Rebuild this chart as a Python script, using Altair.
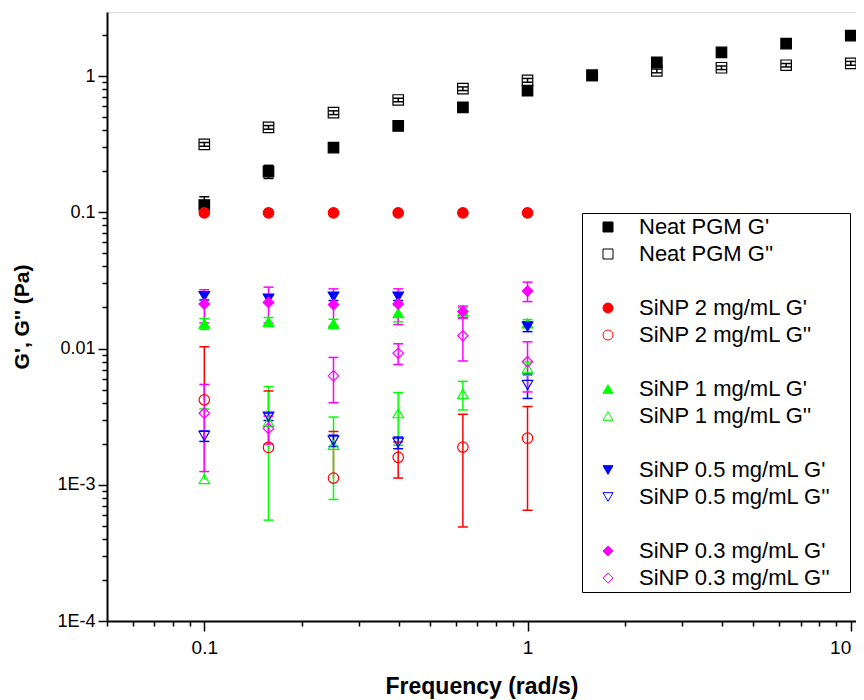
import altair as alt
import pandas as pd

# ---------------- data ----------------
freq = [0.1, 0.158, 0.251, 0.398, 0.631, 1.0, 1.585, 2.512, 3.981, 6.31, 10.0]
freq6 = [0.1, 0.158, 0.251, 0.398, 0.631, 1.0]
freq5 = [0.1, 0.158, 0.251, 0.398, 1.0]

neat_g1 = [0.113, 0.199, 0.298, 0.43, 0.589, 0.78, 1.01, 1.26, 1.49, 1.73, 1.98]
neat_g1_err = [0.017, 0.022, 0.015, 0.015, 0.02, 0.03, 0.03, 0.04, 0.04, 0.04, 0.05]
neat_g2 = [0.315, 0.42, 0.538, 0.667, 0.807, 0.93, 1.01, 1.09, 1.15, 1.20, 1.24]
neat_g2_err = [0.01, 0.013, 0.017, 0.02, 0.025, 0.03, 0.03, 0.035, 0.035, 0.035, 0.04]

si2_g1 = [0.099, 0.099, 0.099, 0.099, 0.099, 0.099]
si2_g1_err = [0.002, 0.002, 0.002, 0.002, 0.002, 0.002]
si2_g2 = [0.0042, 0.00188, 0.00112, 0.00159, 0.00189, 0.0022]
si2_g2_err = [0.0061, 0.0030, 0.00134, 0.00047, 0.0014, 0.00155]

si1_g1 = [0.0152, 0.0157, 0.0152, 0.0182, 0.0187, 0.0153]
si1_g1_err = [0.0014, 0.0012, 0.0012, 0.0025, 0.0012, 0.001]
si1_g2 = [0.0011, 0.0029, 0.00196, 0.00335, 0.00464, 0.00716]
si1_g2_err = [0.0025, 0.00235, 0.00118, 0.0014, 0.0011, 0.0008]

si05_g1 = [0.0242, 0.0232, 0.024, 0.024, 0.0145]
si05_g1_err = [0.0015, 0.0015, 0.0015, 0.0015, 0.0012]
si05_g2 = [0.00228, 0.00316, 0.00211, 0.00204, 0.0054]
si05_g2_err = [0.0002, 0.0002, 0.0002, 0.0002, 0.0011]

si03_g1 = [0.0212, 0.0218, 0.021, 0.0212, 0.0187, 0.0264]
si03_g1_err = [0.0058, 0.0064, 0.0064, 0.0062, 0.0018, 0.0043]
si03_g2 = [0.00335, 0.00259, 0.0063, 0.00923, 0.0124, 0.008]
si03_g2_err = [0.0021, 0.0006, 0.0023, 0.0016, 0.0043, 0.0032]

series = [
    ("Neat PGM G'", freq, neat_g1, neat_g1_err),
    ("Neat PGM G''", freq, neat_g2, neat_g2_err),
    ("SiNP 2 mg/mL G'", freq6, si2_g1, si2_g1_err),
    ("SiNP 2 mg/mL G''", freq6, si2_g2, si2_g2_err),
    ("SiNP 1 mg/mL G'", freq6, si1_g1, si1_g1_err),
    ("SiNP 1 mg/mL G''", freq6, si1_g2, si1_g2_err),
    ("SiNP 0.5 mg/mL G'", freq5, si05_g1, si05_g1_err),
    ("SiNP 0.5 mg/mL G''", freq5, si05_g2, si05_g2_err),
    ("SiNP 0.3 mg/mL G'", freq6, si03_g1, si03_g1_err),
    ("SiNP 0.3 mg/mL G''", freq6, si03_g2, si03_g2_err),
]

# legend entries (blank spacer rows between groups)
legend_names = ["Neat PGM G'", "Neat PGM G''", " ",
                "SiNP 2 mg/mL G'", "SiNP 2 mg/mL G''", "  ",
                "SiNP 1 mg/mL G'", "SiNP 1 mg/mL G''", "   ",
                "SiNP 0.5 mg/mL G'", "SiNP 0.5 mg/mL G''", "    ",
                "SiNP 0.3 mg/mL G'", "SiNP 0.3 mg/mL G''"]
legend_shapes = ["square", "square", "circle",
                 "circle", "circle", "circle",
                 "triangle-up", "triangle-up", "circle",
                 "triangle-down", "triangle-down", "circle",
                 "diamond", "diamond"]
legend_strokes = ["#000000", "#000000", "transparent",
                  "#ff0000", "#ff0000", "transparent",
                  "#00ff00", "#00ff00", "transparent",
                  "#0000ff", "#0000ff", "transparent",
                  "#ff00ff", "#ff00ff"]
legend_fills = ["#000000", "transparent", "transparent",
                "#ff0000", "transparent", "transparent",
                "#00ff00", "transparent", "transparent",
                "#0000ff", "transparent", "transparent",
                "#ff00ff", "transparent"]

series_names = [s[0] for s in series]
series_colors = ["#000000", "#000000", "#ff0000", "#ff0000", "#00ff00", "#00ff00",
                 "#0000ff", "#0000ff", "#ff00ff", "#ff00ff"]

rows = []
for name, xs, vs, es in series:
    for x, v, e in zip(xs, vs, es):
        lo = v - e
        rows.append({
            "series": name, "freq": x, "val": v, "hi": v + e,
            "lo": lo if lo > 0 else None,
            "bar_lo": lo if lo > 0 else v,
        })
df = pd.DataFrame(rows)

# ---------------- axes ----------------
x_ticks = [round(m * 10 ** e, 6) for e in (-2, -1, 0) for m in range(1, 10)]
x_ticks = [t for t in x_ticks if t >= 0.05] + [10.0]
y_ticks = [round(m * 10 ** e, 8) for e in (-4, -3, -2, -1) for m in range(1, 10)] + [1.0, 2.0]

font = "Liberation Sans"

x_scale = alt.Scale(type="log", domain=[0.05, 10.38], nice=False)
y_scale = alt.Scale(type="log", domain=[0.0001, 2.95], nice=False)

x_axis = alt.Axis(
    title="Frequency (rad/s)", values=x_ticks,
    labelExpr="datum.value == 0.1 ? '0.1' : datum.value == 1 ? '1' : datum.value == 10 ? '10' : ''",
    tickSize={"condition": {"test": "indexof([0.1, 1, 10], datum.value) >= 0", "value": 10}, "value": 5},
    labelOverlap=False, labelFlush=7, grid=False,
    domainColor="black", domainWidth=2, tickColor="black", tickWidth=1.5,
    labelFont=font, labelFontSize=19, labelColor="black", labelPadding=7,
    titleFont=font, titleFontSize=23, titleFontWeight="bold", titleColor="black", titlePadding=18,
)
y_axis = alt.Axis(
    title="G', G'' (Pa)", values=y_ticks,
    labelExpr="datum.value == 0.0001 ? '1E-4' : datum.value == 0.001 ? '1E-3' : datum.value == 0.01 ? '0.01' : datum.value == 0.1 ? '0.1' : datum.value == 1 ? '1' : ''",
    tickSize={"condition": {"test": "indexof([0.0001, 0.001, 0.01, 0.1, 1], datum.value) >= 0", "value": 9}, "value": 5},
    labelOverlap=False, labelFlush=False, grid=False,
    domainColor="black", domainWidth=2, tickColor="black", tickWidth=1.5,
    labelFont=font, labelFontSize=18, labelColor="black", labelPadding=3,
    titleFont=font, titleFontSize=21, titleFontWeight="bold", titleColor="black", titlePadding=24,
)

bar_color = alt.Color("series:N", scale=alt.Scale(domain=series_names, range=series_colors), legend=None)

base = alt.Chart(df)

rules = base.mark_rule(strokeWidth=1.5).encode(
    x=alt.X("freq:Q", scale=x_scale, axis=x_axis),
    y=alt.Y("bar_lo:Q", scale=y_scale, axis=y_axis),
    y2="hi:Q",
    color=bar_color,
)
caps_hi = base.mark_tick(orient="horizontal", size=10, thickness=1.5, opacity=1).encode(
    x=alt.X("freq:Q", scale=x_scale),
    y=alt.Y("hi:Q", scale=y_scale),
    color=bar_color,
)
caps_lo = base.transform_filter("isValid(datum.lo)").mark_tick(
    orient="horizontal", size=10, thickness=1.5, opacity=1).encode(
    x=alt.X("freq:Q", scale=x_scale),
    y=alt.Y("lo:Q", scale=y_scale),
    color=bar_color,
)

legend = alt.Legend(
    title=None, orient="none", legendX=475, legendY=201,
    strokeColor="black", fillColor="white", padding=3,
    labelFont=font, labelFontSize=22, labelColor="black", labelLimit=400,
    labelExpr="datum.label + '\u2800'",
    symbolSize=100, symbolStrokeWidth=1, symbolOffset=12, labelOffset=20,
    rowPadding=5.0,
)

points = base.mark_point(size=110, strokeWidth=1.2, opacity=1).encode(
    x=alt.X("freq:Q", scale=x_scale),
    y=alt.Y("val:Q", scale=y_scale),
    shape=alt.Shape("series:N", scale=alt.Scale(domain=legend_names, range=legend_shapes), legend=legend),
    stroke=alt.Stroke("series:N", scale=alt.Scale(domain=legend_names, range=legend_strokes), legend=legend),
    fill=alt.Fill("series:N", scale=alt.Scale(domain=legend_names, range=legend_fills), legend=legend),
)

chart = alt.layer(rules, caps_hi, caps_lo, points).properties(
    width=749, height=609,
    autosize=alt.AutoSizeParams(type="none"),
    padding={"left": 99, "top": 4, "right": 0, "bottom": 80},
).configure_view(stroke=None).configure(font=font)

chart.save("out.html", embed_options={"renderer": "svg", "actions": False})
